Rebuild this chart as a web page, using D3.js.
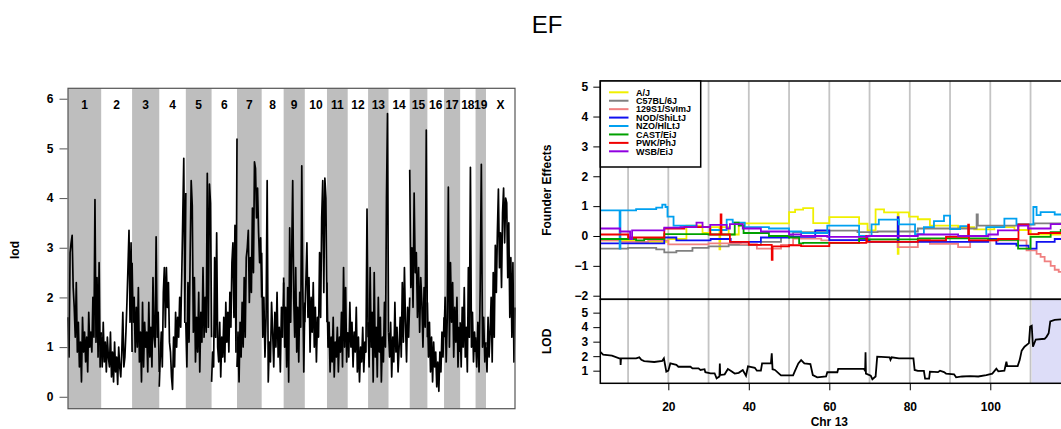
<!DOCTYPE html>
<html>
<head>
<meta charset="utf-8">
<script src="https://cdn.jsdelivr.net/npm/d3@7"></script>
<style>
  body { margin: 0; background: #fff; }
  text { font-family: "Liberation Sans", Arial, sans-serif; }
</style>
</head>
<body>
<div id="chart"></div>
<script>
// ---- genome scan data (left panel) ----
var chrNames = ["1","2","3","4","5","6","7","8","9","10","11","12","13","14","15","16","17","18","19","X"];
var chrLengths = [195.5,182.1,160.0,156.5,151.8,149.7,145.4,129.4,124.6,130.7,122.1,120.1,120.4,124.9,104.0,98.2,94.9,90.7,61.4,171.0];

var lodByChr = [
  [1.6,0.8,2.9,3.1,3.25,2.2,1.8,1.2,2.3,0.9,1.5,0.6,1.1,0.3,1.6,0.9,1.3,0.7,1.2,0.5,1.7,1.0,1.3,0.9,2.0,1.2,3.97,1.1,2.4,0.8,2.7,0.6,1.3],
  [1.2,0.6,1.5,0.7,1.1,0.5,1.2,0.8,0.6,1.3,0.4,0.9,0.3,1.1,0.5,0.8,0.25,1.0,0.6,0.4,0.9,1.7,0.6,0.8,1.3,1.9,2.6,3.35,1.5,3.1,0.9],
  [2.7,1.5,2.0,0.9,1.8,1.0,2.2,0.7,1.3,0.3,1.9,0.6,1.5,1.0,1.3,0.5,1.9,0.8,1.4,0.6,2.4,1.2,1.0,3.22,1.2,1.7,0.5],
  [0.2,0.8,1.3,0.6,2.1,2.6,1.4,2.6,1.8,2.3,1.1,0.9,0.4,0.15,1.2,0.6,1.7,1.0,1.6,1.2,2.0,1.4,2.4,3.6,4.8,1.5,4.1],
  [1.5,0.6,2.3,1.1,2.8,4.35,3.85,1.3,2.4,0.7,1.6,0.9,2.1,0.5,1.7,1.1,2.6,1.2,2.0,1.3,4.5,1.4,4.28,3.9,1.2],
  [0.3,0.9,0.6,2.8,1.2,3.3,1.0,0.7,1.5,0.4,1.2,0.8,1.6,0.7,1.9,1.1,1.7,0.9,2.1,1.4,2.7,3.1,1.6,3.45,0.9,5.2],
  [0.6,1.3,0.3,1.5,0.8,1.9,1.0,2.4,1.2,2.8,3.0,3.35,1.9,2.8,2.1,3.8,2.5,4.73,4.6,3.6,4.2,3.3,2.7,3.2,2.0],
  [2.9,1.2,2.0,0.8,1.6,4.35,0.3,1.1,0.7,1.9,1.3,0.6,1.7,1.0,2.1,0.8,1.4,0.5,1.8,1.2,2.3],
  [2.4,1.0,1.8,0.6,2.2,0.3,3.4,1.5,2.9,4.35,2.0,1.2,2.6,0.9,1.8,0.7,2.1,1.4,4.65,2.2,0.5,1.9],
  [1.5,2.3,3.1,1.6,2.4,0.9,2.0,1.3,2.3,1.0,1.8,0.7,1.6,1.2,2.9,1.6,3.6,4.35,2.1,4.4,4.0,1.5],
  [2.3,1.0,1.5,0.5,1.2,0.7,1.6,0.4,1.1,0.8,1.4,0.5,1.2,0.9,1.7,0.6,2.6,1.0,2.2,0.7,1.3],
  [1.3,0.8,1.9,1.0,1.5,0.6,1.3,0.9,1.8,0.5,1.2,0.3,1.0,0.7,1.4,0.5,1.1,0.9,3.78,1.2],
  [1.5,0.6,2.6,1.0,1.7,0.3,2.5,0.8,1.4,0.4,2.0,0.9,1.6,0.3,1.2,0.7,1.9,1.0,4.0,5.7,1.3],
  [1.3,0.8,1.5,0.4,1.2,0.7,1.9,0.9,1.4,0.5,1.0,1.6,0.8,2.3,1.1,2.6,1.5,0.7,1.8,1.2,2.0],
  [4.57,2.2,3.0,1.8,4.1,2.5,2.9,1.6,2.6,1.3,2.4,1.9,1.0,2.2,1.4,5.37,1.2],
  [1.9,0.8,1.5,0.5,1.2,0.3,1.1,0.6,0.9,0.2,0.7,0.11,0.9,0.5,1.3,0.8,1.6],
  [1.2,2.0,0.7,1.6,4.22,1.0,2.7,1.5,2.3,0.8,1.8,1.1,2.0,0.6,1.4,0.9],
  [1.5,0.6,1.8,1.0,2.2,0.8,1.4,0.5,2.6,1.2,4.62,1.0,1.7,0.7,1.3,0.9],
  [1.2,0.6,1.5,0.5,2.2,4.68,1.0,1.6,0.7,1.1],
  [1.0,0.5,1.6,0.8,1.3,2.0,0.7,2.5,1.2,3.05,2.1,3.3,4.18,2.6,3.3,2.2,3.7,4.2,3.1,4.0,3.9,2.4,3.5,1.6,2.8,1.2,2.7,0.7,1.8]
];
var lodTicks = [0,1,2,3,4,5,6];

// ---- chr 13 founder effects (right panel), [position Mb, effect] step points ----
var founderNames = ["A/J","C57BL/6J","129S1/SvImJ","NOD/ShiLtJ","NZO/HlLtJ","CAST/EiJ","PWK/PhJ","WSB/EiJ"];
var founderColors = ["#F0F000","#808080","#F08080","#1010F0","#00A0F0","#00A000","#F00000","#9000E0"];

var effAJ = [[3.1,-0.15],[12,-0.2],[20,-0.1],[24.5,0.35],[28.5,0.1],[30.5,0.3],[32.7,-0.45],[32.9,0.3],[35,0.05],[37.5,0.42],[50,0.8],[51.5,0.88],[53.5,0.93],[56,0.43],[60,0.63],[67.4,0.41],[69.5,0.19],[71.5,0.89],[73.6,0.79],[77,-0.6],[77.2,0.79],[79.8,0.65],[82,0.56],[85,0.35],[92,0.3],[96,0.22],[101,0.3],[106,0.2],[110,0.05],[120.4,0.05]];
var effB6 = [[3.1,-0.42],[10,-0.4],[17,-0.45],[19,-0.55],[22,-0.5],[26,-0.4],[30,-0.35],[35,-0.3],[43,-0.2],[48,0.0],[51,0.13],[60,0.18],[67,0.13],[72,0.15],[82,0.25],[96.6,0.72],[96.9,0.35],[107,0.38],[111,0.42],[120.4,0.42]];
var eff129 = [[3.1,-0.15],[8,-0.2],[15,-0.15],[20,-0.28],[30,-0.25],[38,-0.27],[42,-0.42],[48,-0.3],[51,-0.09],[58,-0.15],[67,-0.12],[77,-0.37],[82,-0.12],[85,-0.26],[92,-0.37],[95,-0.15],[109,-0.48],[111.5,-0.6],[112.5,-0.7],[113.5,-0.85],[115,-1.0],[116,-1.13],[117,-1.2],[120.4,-1.2]];
var effNOD = [[3.1,-0.25],[19,-0.05],[22,-0.15],[30.5,-0.1],[35.5,-0.2],[43,-0.05],[50,-0.03],[56.5,0.19],[60,-0.14],[70,-0.2],[77,0.63],[77.2,-0.2],[99.5,-0.1],[101.5,-0.26],[106.5,-0.32],[109.5,-0.42],[111.5,-0.2],[116,-0.1],[120.4,-0.1]];
var effNZO = [[3.1,0.86],[7.9,-0.42],[8.1,0.86],[12,0.9],[17,0.95],[18.5,1.05],[19.3,0.97],[19.8,0.65],[21.3,0.35],[27,0.3],[30.4,0.2],[34.5,0.55],[36,0.45],[39,0.3],[45,0.25],[50,0.15],[53,0.1],[59.5,0.35],[67.4,0.0],[70.5,0.39],[72.3,0.55],[77.3,0.39],[81.3,0.06],[83.5,0.3],[86,0.5],[88.5,0.68],[90,0.23],[92.5,0.33],[94.6,0.0],[99,0.3],[103.5,0.58],[106.5,0.39],[110.7,0.97],[111.5,0.7],[112.5,0.8],[116,0.72],[120.4,0.72]];
var effCAST = [[3.1,-0.1],[12,-0.15],[14,-0.1],[19,0.06],[30,0.05],[36.5,0.45],[37.5,0.35],[38.7,0.1],[45,0.0],[50,-0.05],[52.5,-0.25],[53.5,-0.23],[67.4,-0.08],[69.5,-0.11],[82,-0.08],[99.5,-0.13],[106.9,-0.42],[110,-0.03],[115,0.13],[117.5,0.2],[120.4,0.2]];
var effPWK = [[3.1,0.05],[10,-0.05],[19,0.25],[24,0.3],[30.4,0.05],[33,0.72],[33.2,0.05],[35.3,-0.2],[40,-0.3],[45.7,-0.8],[45.9,-0.35],[50,-0.31],[53,-0.34],[60,-0.23],[69.2,0.0],[69.4,-0.2],[82,-0.15],[89,-0.03],[94.5,0.38],[94.7,-0.15],[101.9,-0.1],[107,0.39],[109.5,0.06],[112,0.1],[120.4,0.1]];
var effWSB = [[3.1,0.25],[8,0.15],[10.5,-0.1],[11,0.19],[19,0.28],[23,0.3],[27,0.45],[28.5,0.3],[30.4,0.37],[34.5,0.25],[35.3,0.4],[38.5,0.25],[43,0.15],[50,0.05],[53,0.0],[59.5,-0.03],[69.5,0.0],[82,0.05],[92,0.0],[99.5,0.05],[101.9,0.19],[106.9,0.35],[109.4,0.25],[115,0.4],[120.4,0.4]];
var founderEffects = [effAJ,effB6,eff129,effNOD,effNZO,effCAST,effPWK,effWSB];

var lodChr13 = [[3.1,2.3],[3.8,2.1],[6,2.04],[7.8,1.85],[8.1,1.85],[8.15,1.39],[8.25,1.85],[12,1.85],[12.8,1.92],[13.3,1.75],[14,1.66],[16.5,1.6],[18.5,1.68],[18.9,1.85],[19.5,0.93],[20,1.0],[20.5,1.5],[22,1.4],[22.5,1.27],[25.5,1.27],[26,1.16],[27.5,1.16],[28,1.05],[29,1.1],[29.2,0.9],[30.5,0.82],[31.5,0.82],[32,0.47],[32.7,0.6],[32.8,1.5],[32.9,0.7],[34,0.75],[34.8,1.12],[35.5,1.0],[36.5,0.8],[37.5,0.85],[38.5,1.05],[39.3,0.65],[39.8,1.3],[41.5,1.2],[42,1.0],[43,1.0],[43.3,1.5],[45.5,1.5],[45.7,2.2],[45.9,1.1],[46.5,1.05],[47.5,0.8],[48,0.68],[51,0.68],[51.5,1.0],[52.3,1.5],[53,1.73],[53.8,1.5],[55.3,1.46],[55.9,0.7],[57,0.54],[59.2,0.6],[59.5,0.89],[62,0.89],[62.2,1.12],[68.6,1.12],[68.9,1.0],[69,2.27],[69.1,0.8],[70.3,0.66],[70.7,0.41],[71.5,0.6],[71.9,1.97],[75,1.92],[75.2,1.75],[75.5,1.92],[77.3,1.85],[80.9,1.85],[81.2,1.05],[82,0.98],[83.5,0.98],[83.8,0.45],[84.8,0.45],[85,0.93],[87,0.9],[87.5,1.0],[88.5,0.9],[89,0.8],[91,0.75],[91.5,0.54],[93,0.6],[95,0.62],[97,0.6],[99,0.7],[100.5,0.8],[101.5,1.14],[102,0.95],[103.5,1.0],[104,1.62],[104.2,1.32],[106.8,1.32],[107.3,1.73],[107.8,2.38],[108.5,2.65],[109.6,2.9],[109.9,4.04],[110.3,4.1],[110.6,2.65],[111.3,3.15],[113.5,3.2],[114,3.35],[114.5,3.58],[114.9,4.4],[116,4.5],[120.4,4.6]];
var lodInterval = [110.3, 120.4];

var xTicksR = [20,40,60,80,100];
var gridR = [10,20,30,40,50,60,70,80,90,100,110];
var effTicks = [-2,-1,0,1,2,3,4,5];
var lodTicksR = [1,2,3,4,5];

// ---- drawing ----
var W = 1061, H = 429;
var svg = d3.select("#chart").append("svg")
  .attr("width", W).attr("height", H)
  .style("display","block");

svg.append("text")
  .attr("x", 547).attr("y", 33)
  .attr("text-anchor","middle")
  .style("font-size","24px")
  .text("EF");

// left: genome scan
var L = {left: 68, right: 515, top: 88.3, bottom: 408.7};
var offsets = [], acc = 0;
chrLengths.forEach(function(len){ offsets.push(acc); acc += len; });
var xL = d3.scaleLinear().domain([0, acc]).range([L.left, L.right]);
var yL = d3.scaleLinear().domain([-0.24, 6.21]).range([L.bottom, L.top]);

var gL = svg.append("g");
gL.selectAll("rect.band")
  .data(chrNames)
  .enter().append("rect")
  .attr("class","band")
  .attr("x", function(d,i){ return xL(offsets[i]); })
  .attr("width", function(d,i){ return xL(offsets[i] + chrLengths[i]) - xL(offsets[i]); })
  .attr("y", L.top).attr("height", L.bottom - L.top)
  .attr("fill", function(d,i){ return i % 2 == 0 ? "#BEBEBE" : "none"; });

gL.selectAll("text.chr")
  .data(chrNames)
  .enter().append("text")
  .attr("class","chr")
  .attr("x", function(d,i){ return xL(offsets[i] + chrLengths[i]/2); })
  .attr("y", 108.5)
  .attr("text-anchor","middle")
  .style("font-size","12px").style("font-weight","bold")
  .text(function(d){ return d; });

var lineL = d3.line().x(function(d){ return xL(d[0]); }).y(function(d){ return yL(d[1]); });
lodByChr.forEach(function(vals, c){
  var n = vals.length;
  var pts = vals.map(function(v,i){ return [offsets[c] + chrLengths[c]*i/(n-1), v]; });
  gL.append("path")
    .attr("d", lineL(pts))
    .attr("fill","none").attr("stroke","#000")
    .attr("stroke-width",1.7).attr("stroke-linejoin","round");
});

gL.append("rect")
  .attr("x", L.left).attr("y", L.top)
  .attr("width", L.right - L.left).attr("height", L.bottom - L.top)
  .attr("fill","none").attr("stroke","#555").attr("stroke-width",1.2);

var axL = d3.axisLeft(yL).tickValues(lodTicks).tickSize(8).tickPadding(6).tickFormat(d3.format("d"));
var gAxL = gL.append("g").attr("transform","translate(" + (L.left - 0.5) + ",0)").call(axL);
gAxL.select(".domain").remove();
gAxL.selectAll("line").attr("stroke","#555");
gAxL.selectAll("text").style("font-size","12px").style("font-weight","bold")
  .style("font-family","Liberation Sans, Arial, sans-serif").attr("fill","#000");

svg.append("text")
  .attr("transform","translate(19,250) rotate(-90)")
  .attr("text-anchor","middle")
  .style("font-size","12px").style("font-weight","bold")
  .text("lod");

// right: founder effects + LOD on chr 13
var R = {left: 600.3, right: 1072.4, top: 81, mid: 299.3, bottom: 383.3};
var xR = d3.scaleLinear().domain([3.1, 120.4]).range([R.left, R.right]);
var yE = d3.scaleLinear().domain([-2.12, 5.19]).range([R.mid, R.top]);
var yD = d3.scaleLinear().domain([0.13, 5.92]).range([R.bottom, R.mid]);

var defs = svg.append("defs");
defs.append("clipPath").attr("id","clipE").append("rect")
  .attr("x", R.left).attr("y", R.top).attr("width", R.right - R.left).attr("height", R.mid - R.top);
defs.append("clipPath").attr("id","clipD").append("rect")
  .attr("x", R.left).attr("y", R.mid).attr("width", R.right - R.left).attr("height", R.bottom - R.mid);

var gR = svg.append("g");

// interval shading
gR.append("rect")
  .attr("x", xR(lodInterval[0])).attr("y", R.mid)
  .attr("width", xR(lodInterval[1]) - xR(lodInterval[0]))
  .attr("height", R.bottom - R.mid)
  .attr("fill","#DDDDF8");

// vertical grid
gR.selectAll("line.grid")
  .data(gridR)
  .enter().append("line")
  .attr("class","grid")
  .attr("x1", function(d){ return xR(d); }).attr("x2", function(d){ return xR(d); })
  .attr("y1", R.top).attr("y2", R.bottom)
  .attr("stroke","#C4C4C4").attr("stroke-width",1.8);

var lineE = d3.line().curve(d3.curveStepAfter)
  .x(function(d){ return xR(d[0]); }).y(function(d){ return yE(d[1]); });
var gE = gR.append("g").attr("clip-path","url(#clipE)");
founderEffects.forEach(function(series, i){
  gE.append("path")
    .attr("d", lineE(series))
    .attr("fill","none").attr("stroke", founderColors[i])
    .attr("stroke-width",1.8);
});

var lineD = d3.line().x(function(d){ return xR(d[0]); }).y(function(d){ return yD(d[1]); });
gR.append("g").attr("clip-path","url(#clipD)").append("path")
  .attr("d", lineD(lodChr13))
  .attr("fill","none").attr("stroke","#000").attr("stroke-width",1.8);

// frames
gR.append("rect")
  .attr("x", R.left).attr("y", R.top).attr("width", R.right - R.left).attr("height", R.mid - R.top)
  .attr("fill","none").attr("stroke","#000").attr("stroke-width",1.5);
gR.append("rect")
  .attr("x", R.left).attr("y", R.mid).attr("width", R.right - R.left).attr("height", R.bottom - R.mid)
  .attr("fill","none").attr("stroke","#000").attr("stroke-width",1.5);

function styleAxis(g){
  g.select(".domain").remove();
  g.selectAll("line").attr("stroke","#000");
  g.selectAll("text").style("font-size","12px").style("font-weight","bold")
    .style("font-family","Liberation Sans, Arial, sans-serif").attr("fill","#000");
}
styleAxis(gR.append("g").attr("transform","translate(" + R.left + ",0)")
  .call(d3.axisLeft(yE).tickValues(effTicks).tickSize(7).tickPadding(5).tickFormat(d3.format("d"))));
styleAxis(gR.append("g").attr("transform","translate(" + R.left + ",0)")
  .call(d3.axisLeft(yD).tickValues(lodTicksR).tickSize(7).tickPadding(5).tickFormat(d3.format("d"))));
styleAxis(gR.append("g").attr("transform","translate(0," + R.bottom + ")")
  .call(d3.axisBottom(xR).tickValues(xTicksR).tickSize(7).tickPadding(12).tickFormat(d3.format("d"))));

svg.append("text")
  .attr("x", xR(60)).attr("y", 426)
  .attr("text-anchor","middle")
  .style("font-size","12px").style("font-weight","bold")
  .text("Chr 13");
svg.append("text")
  .attr("transform","translate(551," + ((R.top + R.mid)/2) + ") rotate(-90)")
  .attr("text-anchor","middle")
  .style("font-size","12px").style("font-weight","bold")
  .text("Founder Effects");
svg.append("text")
  .attr("transform","translate(551," + ((R.mid + R.bottom)/2) + ") rotate(-90)")
  .attr("text-anchor","middle")
  .style("font-size","12px").style("font-weight","bold")
  .text("LOD");

// legend
var leg = gR.append("g");
leg.append("rect")
  .attr("x", R.left).attr("y", R.top).attr("width", 100.4).attr("height", 86)
  .attr("fill","#fff").attr("stroke","#000").attr("stroke-width",1.5);
var rows = leg.selectAll("g.row")
  .data(founderNames)
  .enter().append("g").attr("class","row")
  .attr("transform", function(d,i){ return "translate(0," + (92.3 + i*8.43) + ")"; });
rows.append("line")
  .attr("x1", 609).attr("x2", 628.5).attr("y1",0).attr("y2",0)
  .attr("stroke", function(d,i){ return founderColors[i]; })
  .attr("stroke-width",2);
rows.append("text")
  .attr("x", 636).attr("y", 3.3)
  .style("font-size","9px").style("font-weight","bold")
  .text(function(d){ return d; });
</script>
</body>
</html>
